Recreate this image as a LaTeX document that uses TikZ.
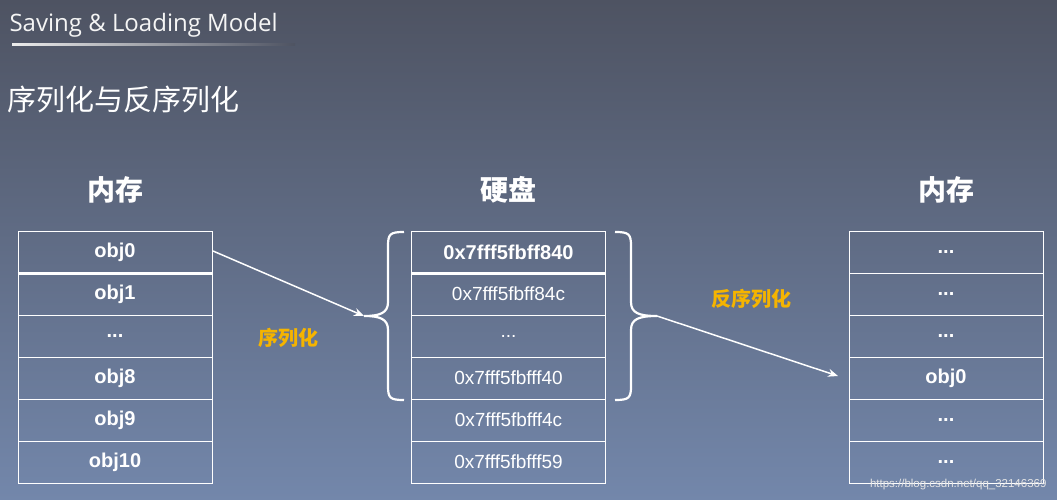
\documentclass[tikz,border=0pt]{standalone}
\usepackage{fontspec}
\setmainfont{Liberation Sans}
\newfontfamily\cjk{Noto Sans CJK SC}
\newfontfamily\titlef{Open Sans}
\usetikzlibrary{arrows.meta}
\definecolor{orng}{HTML}{F5B400}
\definecolor{bgtop}{HTML}{4E5362}
\definecolor{bgbot}{HTML}{7387AB}
\tikzset{
  cell/.style={draw=white,line width=0.8pt,minimum width=194pt,minimum height=42pt,inner sep=0pt,text=white,font=\fontsize{19}{22}\selectfont},
  bcell/.style={cell,font=\fontsize{20}{22}\selectfont\bfseries},
  hdr/.style={text=white,font=\cjk\fontsize{28}{30}\selectfont\bfseries},
  lbl/.style={text=orng,font=\cjk\fontsize{20}{22}\selectfont\bfseries},
  arr/.style={white,line width=1.5pt,-{Stealth[length=10pt,width=8pt]}},
  brace/.style={white,line width=2.2pt}
}
\begin{document}
\begin{tikzpicture}[x=1pt,y=-1pt]
\shade[top color=bgtop,bottom color=bgbot] (0,0) rectangle (1057,500);
\useasboundingbox (0,0) rectangle (1057,500);
\node[anchor=west,text=white!92!gray,font=\titlef\fontsize{24}{26}\selectfont] (title) at (6,25) {Saving \& Loading Model};
\shade[left color=white!85!gray,right color=bgtop] (12,44) rectangle (295,45.5);
\node[anchor=west,text=white,font=\cjk\fontsize{29}{31}\selectfont] (sub) at (4,99) {序列化与反序列化};
% left table
\foreach \t/\k [count=\i from 0] in {obj0/a0,obj1/a1,{...}/a2,obj8/a3,obj9/a4,obj10/a5}
  \node[bcell] (\k) at (115,252+42*\i) {\t};
\draw[white,line width=2.5pt] (a0.south west) -- (a0.south east);
% middle
\node[bcell] (b0) at (508.5,252) {0x7fff5fbff840};
\node[cell] (b1) at (508.5,294) {0x7fff5fbff84c};
\node[cell] (b2) at (508.5,336) {...};
\node[cell] (b3) at (508.5,378) {0x7fff5fbfff40};
\node[cell] (b4) at (508.5,420) {0x7fff5fbfff4c};
\node[cell] (b5) at (508.5,462) {0x7fff5fbfff59};
\draw[white,line width=2.5pt] (b0.south west) -- (b0.south east);
% right
\foreach \t/\k [count=\i from 0] in {{...}/c0,{...}/c1,{...}/c2,obj0/c3,{...}/c4,{...}/c5}
  \node[bcell] (\k) at (946,252+42*\i) {\t};
% headers
\node[hdr] (h1) at (115,190) {内存};
\node[hdr] (h2) at (508,190) {硬盘};
\node[hdr] (h3) at (946,190) {内存};
% braces
\coordinate (lt) at (364,316);
\coordinate (rt) at (657,316);
\draw[brace] (404,232) .. controls (390,232) and (388,234) .. (388,246) -- (388,302) .. controls (388,313) and (380,316) .. (lt)
  .. controls (380,316) and (388,319) .. (388,330) -- (388,386) .. controls (388,398) and (390,400) .. (404,400);
\draw[brace] (615,232) .. controls (629,232) and (631,234) .. (631,246) -- (631,302) .. controls (631,313) and (639,316) .. (rt)
  .. controls (639,316) and (631,319) .. (631,330) -- (631,386) .. controls (631,398) and (629,400) .. (615,400);
% arrows
\coordinate (s1) at (213,251);
\coordinate (e2) at (838,376);
\draw[arr] (s1) -- (lt);
\draw[arr] (rt) -- (e2);
\node[lbl] (l1) at (288,338) {序列化};
\node[lbl] (l2) at (751,299) {反序列化};
\node[anchor=east,text=white!80!gray,font=\fontsize{11.5}{13}\selectfont] (wm) at (1050,485) {https://blog.csdn.net/qq\_32146369};
\end{tikzpicture}
\end{document}
